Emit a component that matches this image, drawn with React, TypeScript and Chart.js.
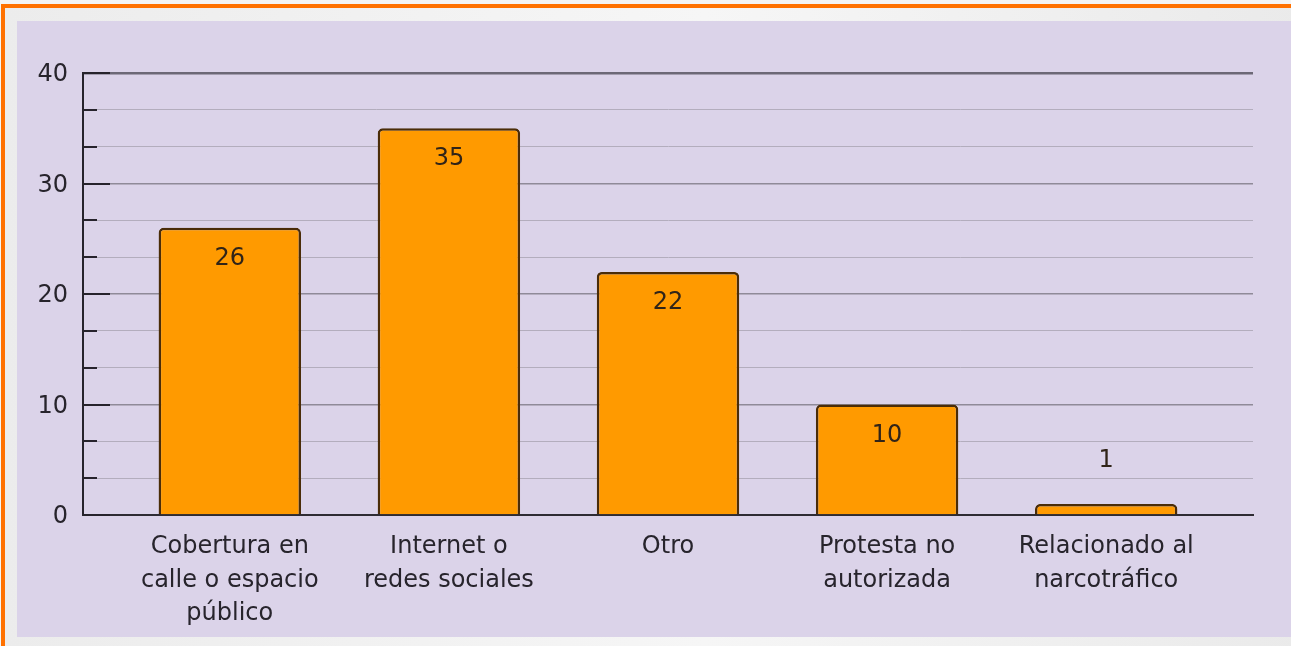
import React, { useEffect, useRef } from 'react';
import { Chart, registerables } from 'chart.js';

Chart.register(...registerables);

const categories: string[][] = [
  ['Cobertura en', 'calle o espacio', 'público'],
  ['Internet o', 'redes sociales'],
  ['Otro'],
  ['Protesta no', 'autorizada'],
  ['Relacionado al', 'narcotráfico'],
];
const values: number[] = [26, 35, 22, 10, 1];
const yTickLabels: string[] = ['0', '10', '20', '30', '40'];
const yMax = 40;
const yMinorPerMajor = 3;

const FONT = '"DejaVu Sans", Verdana, sans-serif';
const TEXT = '#27242c';

const tickMarksPlugin = {
  id: 'tickMarks',
  afterDatasetsDraw(chart: any) {
    const y = chart.scales.y;
    const ctx = chart.ctx;
    const left = chart.chartArea.left;
    ctx.save();
    ctx.strokeStyle = '#26232c';
    ctx.lineWidth = 2;
    y.ticks.forEach((t: any, i: number) => {
      const py = Math.round(y.getPixelForValue(t.value));
      const len = i % yMinorPerMajor === 0 ? 27 : 14;
      ctx.beginPath();
      ctx.moveTo(left, py);
      ctx.lineTo(left + len, py);
      ctx.stroke();
    });
    ctx.restore();
  },
};

const valueLabelPlugin = {
  id: 'valueLabels',
  afterDatasetsDraw(chart: any) {
    const ctx = chart.ctx;
    const meta = chart.getDatasetMeta(0);
    ctx.save();
    ctx.font = `24px ${FONT}`;
    ctx.fillStyle = '#302418';
    ctx.textAlign = 'center';
    ctx.textBaseline = 'middle';
    meta.data.forEach((bar: any, i: number) => {
      const h = bar.base - bar.y;
      const ty = h > 60 ? bar.y + 31 : bar.y - 43;
      ctx.fillText(String(values[i]), bar.x, ty);
    });
    ctx.restore();
  },
};

export default function App() {
  const canvasRef = useRef<HTMLCanvasElement | null>(null);

  useEffect(() => {
    document.body.style.margin = '0';
    const canvas = canvasRef.current;
    if (!canvas) return;
    const chart = new Chart(canvas, {
      type: 'bar',
      data: {
        datasets: [
          {
            data: values.map((v, i) => ({ x: i, y: v })),
            backgroundColor: '#FF9A00',
            borderColor: '#4a2c08',
            borderWidth: 2.5,
            borderSkipped: 'bottom',
            borderRadius: { topLeft: 5, topRight: 5, bottomLeft: 0, bottomRight: 0 },
            barPercentage: 0.65,
            categoryPercentage: 1,
          },
        ],
      },
      options: {
        animation: false,
        responsive: false,
        maintainAspectRatio: false,
        layout: { padding: { left: 0, top: 52, right: 38, bottom: 0 } },
        plugins: {
          legend: { display: false },
          tooltip: { enabled: false },
          title: { display: false },
        },
        scales: {
          x: {
            type: 'linear',
            offset: false,
            min: -0.67,
            max: 4.67,
            afterBuildTicks: (scale: any) => {
              scale.ticks = categories.map((_, i) => ({ value: i }));
            },
            afterFit: (scale: any) => {
              scale.height = 122;
            },
            grid: { display: false, drawTicks: false },
            border: { display: true, color: '#2e2b33', width: 2 },
            ticks: {
              autoSkip: false,
              maxRotation: 0,
              minRotation: 0,
              padding: 15,
              color: TEXT,
              font: { family: FONT, size: 24, lineHeight: 1.4 },
              callback: (v: any) => categories[Math.round(Number(v))] ?? '',
            },
          },
          y: {
            type: 'linear',
            min: 0,
            max: yMax,
            afterBuildTicks: (scale: any) => {
              const n = (yTickLabels.length - 1) * yMinorPerMajor;
              const arr: any[] = [];
              for (let i = 0; i <= n; i++) arr.push({ value: (yMax * i) / n });
              scale.ticks = arr;
            },
            afterFit: (scale: any) => {
              scale.width = 66;
            },
            grid: {
              drawTicks: false,
              color: (c: any) =>
                c.index % yMinorPerMajor === 0
                  ? c.index === (yTickLabels.length - 1) * yMinorPerMajor
                    ? '#6c6876'
                    : '#8f8a98'
                  : '#b3adbd',
              lineWidth: (c: any) =>
                c.index % yMinorPerMajor === 0
                  ? c.index === (yTickLabels.length - 1) * yMinorPerMajor
                    ? 2.5
                    : 1.5
                  : 1,
            },
            border: { display: true, color: '#26232c', width: 2 },
            ticks: {
              autoSkip: false,
              padding: 15,
              labelOffset: 2,
              color: TEXT,
              font: { family: FONT, size: 24 },
              callback: (_v: any, index: number) =>
                index % yMinorPerMajor === 0 ? yTickLabels[index / yMinorPerMajor] : '',
            },
          },
        },
      },
      plugins: [tickMarksPlugin, valueLabelPlugin],
    } as any);
    return () => chart.destroy();
  }, []);

  return (
    <div
      style={{
        position: 'relative',
        width: 1291,
        height: 646,
        overflow: 'hidden',
        background: '#f4f4f4',
      }}
    >
      <div
        style={{
          position: 'absolute',
          left: 1,
          top: 4,
          width: 1400,
          height: 700,
          borderTop: '4px solid #FF7100',
          borderLeft: '4px solid #FF7100',
          background: 'linear-gradient(90deg, #ececec 0%, #f6f6f6 50%, #e8e8e8 100%)',
        }}
      />
      <div
        style={{
          position: 'absolute',
          left: 17,
          top: 21,
          width: 1274,
          height: 616,
          background: '#DBD3E9',
        }}
      >
        <canvas ref={canvasRef} width={1274} height={616} style={{ display: 'block' }} />
      </div>
    </div>
  );
}
